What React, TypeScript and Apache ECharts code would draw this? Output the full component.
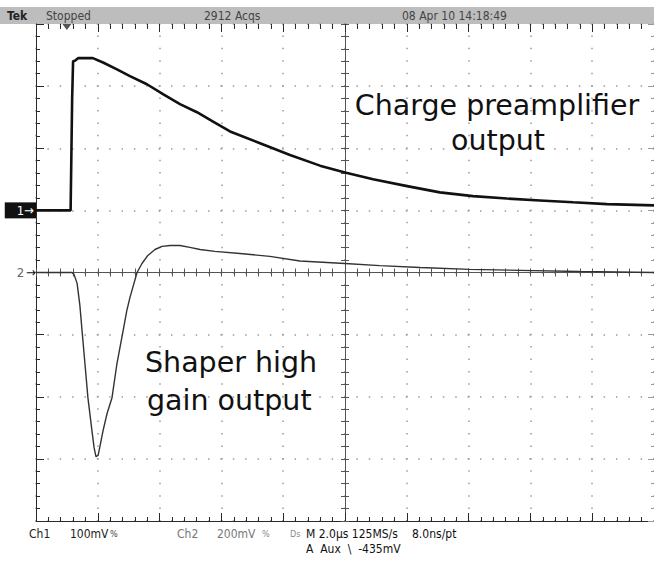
import React, { useEffect, useRef } from "react";
import * as echarts from "echarts";

// ---- Data ----
const timePerDivUs = 2; // M 2.0µs
const ch1MvPerDiv = 100;
const ch2MvPerDiv = 200;
const ch1OffsetDiv = 1;
const ch2OffsetDiv = 0;
const triggerTimeUs = 1.0;

const ch1TimeUs = [0, 1.12, 1.17, 1.2, 1.26, 1.36, 1.84, 2.17, 2.62, 3.04, 3.59, 4.11, 4.66, 5.21, 5.73, 6.28, 7.25, 8.22, 9.19, 10.0, 10.91, 12.01, 13.07, 14.14, 15.24, 16.31, 17.38, 18.48, 20.0];
const ch1Mv = [0, 0, 180, 240, 241, 245, 245, 238, 227, 216, 203, 187, 171, 158, 143, 127, 108, 89, 72, 61, 50, 39, 29, 23, 19, 16, 13, 10, 8];

const ch2TimeUs = [0, 1.165, 1.23, 1.33, 1.42, 1.49, 1.59, 1.68, 1.81, 1.88, 1.94, 2.01, 2.07, 2.17, 2.3, 2.46, 2.62, 2.82, 2.94, 3.04, 3.17, 3.27, 3.43, 3.62, 3.85, 4.08, 4.34, 4.66, 4.98, 5.31, 5.79, 6.6, 7.57, 8.54, 10.0, 11.13, 12.43, 14.04, 15.66, 17.6, 20.0];
const ch2Mv = [0, 0, -6, -35, -106, -187, -300, -403, -509, -564, -593, -589, -560, -509, -454, -403, -293, -187, -122, -81, -35, 0, 29, 55, 74, 84, 87, 87, 81, 74, 68, 61, 52, 37, 29, 22, 16, 10, 7, 3, 0];

const headerTexts = ["Tek", "Stopped", "2912 Acqs", "08 Apr 10 14:18:49"];
const footerTexts = ["Ch1", "100mV", "%", "Ch2", "200mV", "%", "Ds", "M 2.0µs 125MS/s", "8.0ns/pt", "A  Aux  \\  -435mV"];
const preampLabel = ["Charge preamplifier", "output"];
const shaperLabel = ["Shaper high", "gain output"];

const NARROW = "'Liberation Sans Narrow', 'DejaVu Sans Condensed', 'Roboto Condensed', 'Liberation Sans', sans-serif";
const BIG = "'DejaVu Sans', sans-serif";

const toDivX = (t: number) => t / timePerDivUs - 5;

export default function App() {
  const ref = useRef<HTMLDivElement>(null);
  useEffect(() => {
    if (!ref.current) return;
    const chart = echarts.init(ref.current, null, { renderer: "svg" });

    const ch1Data = ch1TimeUs.map((t, i) => [toDivX(t), ch1Mv[i] / ch1MvPerDiv + ch1OffsetDiv]);
    const ch2Data = ch2TimeUs.map((t, i) => [toDivX(t), ch2Mv[i] / ch2MvPerDiv + ch2OffsetDiv]);

    const baseX = { type: "value", min: -5, max: 5, interval: 1, axisLabel: { show: false } };
    const baseY = { type: "value", min: -4, max: 4, interval: 1, axisLabel: { show: false } };
    const dark = () => ({ color: "#2a2a2a", width: 1 });
    const mid = () => ({ color: "#555", width: 1 });
    const light = () => ({ color: "#999", width: 1 });

    const txt = (text: string, x: number, y: number, extra: any = {}) => ({
      type: "text",
      x,
      y,
      style: { text, fontFamily: NARROW, fontSize: 12, fill: "#222", textVerticalAlign: "middle", ...extra },
    });
    const big = (text: string, x: number, y: number, align: string) => ({
      type: "text",
      x,
      y,
      z: 10,
      style: { text, fontFamily: BIG, fontSize: 28.5, fill: "#111", textAlign: align, textVerticalAlign: "middle" },
    });

    const graphics: any[] = [
      { type: "rect", shape: { x: 0, y: 7, width: 654, height: 17 }, style: { fill: "#bdbdbd" }, z: -1 },
      txt(headerTexts[0], 7, 16, { fontWeight: "bold", fill: "#222" }),
      txt(headerTexts[1], 46, 16, { fill: "#444" }),
      txt(headerTexts[2], 204, 16, { fill: "#444" }),
      txt(headerTexts[3], 402, 16, { fill: "#444" }),
      txt(footerTexts[0], 29, 534, { fill: "#222" }),
      txt(footerTexts[1], 70, 534, { fill: "#222" }),
      txt(footerTexts[2], 110, 534, { fill: "#444", fontSize: 9 }),
      txt(footerTexts[3], 177, 534, { fill: "#777" }),
      txt(footerTexts[4], 217, 534, { fill: "#777" }),
      txt(footerTexts[5], 262, 534, { fill: "#888", fontSize: 9 }),
      txt(footerTexts[6], 290, 534, { fill: "#888", fontSize: 9 }),
      txt(footerTexts[7], 306, 534, { fill: "#111" }),
      txt(footerTexts[8], 412, 534, { fill: "#111" }),
      txt(footerTexts[9], 306, 549, { fill: "#111" }),
      big(preampLabel[0], 497, 105, "center"),
      big(preampLabel[1], 498, 140, "center"),
      big(shaperLabel[0], 145, 362, "left"),
      big(shaperLabel[1], 147, 400, "left"),
    ];

    const option: any = {
      animation: false,
      backgroundColor: "#fff",
      grid: { left: 36, top: 24, width: 618, height: 497 },
      xAxis: [
        {
          ...baseX,
          position: "bottom",
          axisLine: { show: true, onZero: false, lineStyle: dark() },
          axisTick: { show: true, inside: true, length: 8, lineStyle: dark() },
          minorTick: { show: true, splitNumber: 5, length: 4, lineStyle: dark() },
          splitLine: { show: true, lineStyle: { color: "#9a9a9a", width: 1.5, type: [1.5, 10.925], dashOffset: 0.75 } },
        },
        {
          ...baseX,
          position: "top",
          splitLine: { show: false },
          axisLine: { show: false, onZero: false },
          axisTick: { show: true, inside: true, length: 8, lineStyle: dark() },
          minorTick: { show: true, splitNumber: 5, length: 5, lineStyle: dark() },
        },
        {
          ...baseX,
          position: "bottom",
          splitLine: { show: false },
          axisLine: { show: true, onZero: true, onZeroAxisIndex: 0, lineStyle: mid() },
          axisTick: { show: true, inside: true, length: 4, lineStyle: mid() },
          minorTick: { show: true, splitNumber: 5, length: 4, lineStyle: mid() },
        },
        {
          ...baseX,
          position: "bottom",
          splitLine: { show: false },
          axisLine: { show: false, onZero: true, onZeroAxisIndex: 0 },
          axisTick: { show: true, inside: false, length: 4, lineStyle: mid() },
          minorTick: { show: true, splitNumber: 5, length: 4, lineStyle: mid() },
        },
      ],
      yAxis: [
        {
          ...baseY,
          position: "left",
          axisLine: { show: true, onZero: false, lineStyle: dark() },
          axisTick: { show: true, inside: true, length: 8, lineStyle: dark() },
          minorTick: { show: true, splitNumber: 5, length: 4, lineStyle: dark() },
          splitLine: { show: true, lineStyle: { color: "#9a9a9a", width: 1.5, type: [1.5, 10.86], dashOffset: 0.75 } },
          axisLabel: {
            show: true,
            margin: 0,
            formatter: (v: number) => (v === ch1OffsetDiv ? "{a|1→}" : v === ch2OffsetDiv ? "{b|2}{c|→}" : ""),
            rich: {
              a: { backgroundColor: "#111", color: "#fff", fontFamily: NARROW, fontSize: 13, padding: [2, 2, 1, 12] },
              b: { color: "#666", fontFamily: NARROW, fontSize: 13, padding: [0, 2, 0, 0] },
              c: { color: "#111", fontFamily: NARROW, fontSize: 13 },
            },
          },
        },
        {
          ...baseY,
          position: "right",
          splitLine: { show: false },
          axisLine: { show: false, onZero: false },
          axisTick: { show: true, inside: true, length: 6, lineStyle: light() },
          minorTick: { show: true, splitNumber: 5, length: 3, lineStyle: light() },
        },
        {
          ...baseY,
          position: "left",
          splitLine: { show: false },
          axisLine: { show: true, onZero: true, onZeroAxisIndex: 0, lineStyle: mid() },
          axisTick: { show: true, inside: true, length: 4, lineStyle: mid() },
          minorTick: { show: true, splitNumber: 5, length: 4, lineStyle: mid() },
        },
        {
          ...baseY,
          position: "left",
          splitLine: { show: false },
          axisLine: { show: false, onZero: true, onZeroAxisIndex: 0 },
          axisTick: { show: true, inside: false, length: 4, lineStyle: mid() },
          minorTick: { show: true, splitNumber: 5, length: 4, lineStyle: mid() },
        },
      ],
      series: [
        {
          name: "Charge preamplifier output",
          type: "line",
          data: ch1Data,
          showSymbol: false,
          symbol: "none",
          lineStyle: { color: "#111", width: 2.6 },
          z: 5,
        },
        {
          name: "Shaper high gain output",
          type: "line",
          data: ch2Data,
          showSymbol: false,
          symbol: "none",
          lineStyle: { color: "#333", width: 1.4 },
          z: 5,
        },
      ],
      graphic: graphics,
    };

    chart.setOption(option);

    // trigger position marker, placed through the grid's own scale
    const p = chart.convertToPixel({ gridIndex: 0 }, [toDivX(triggerTimeUs), 4]) as number[];
    if (p && isFinite(p[0]) && isFinite(p[1])) {
      option.graphic = [
        ...graphics,
        {
          type: "polygon",
          z: 10,
          shape: { points: [[p[0] - 4.5, p[1]], [p[0] + 4.5, p[1]], [p[0], p[1] + 6]] },
          style: { fill: "#555" },
        },
      ];
      chart.setOption(option);
    }
    return () => chart.dispose();
  }, []);
  return <div ref={ref} style={{ position: "absolute", left: 0, top: 0, width: 654, height: 566 }} />;
}
